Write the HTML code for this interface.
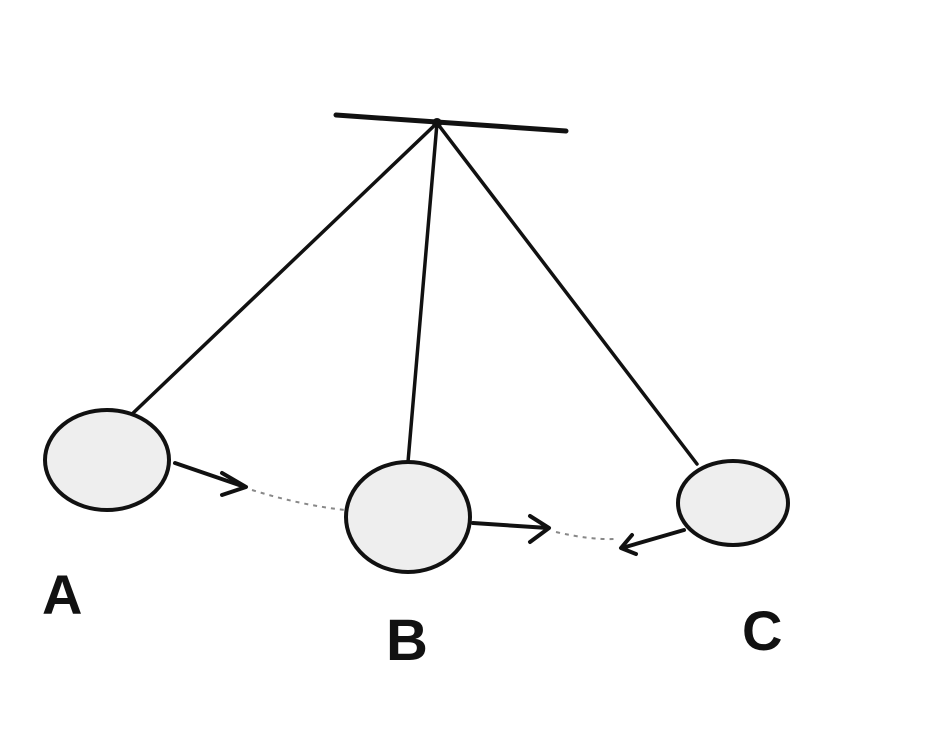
<!DOCTYPE html>
<html><head><style>
html,body{margin:0;padding:0;background:#fff;}
svg{display:block;}
text{font-family:"Liberation Sans",sans-serif;font-weight:bold;fill:#111;}
</style></head><body>
<svg width="928" height="743" viewBox="0 0 928 743" xmlns="http://www.w3.org/2000/svg">
<rect width="928" height="743" fill="#fff"/>
<g stroke="#111" stroke-linecap="round" fill="none">
<line x1="336" y1="115" x2="566" y2="131" stroke-width="5"/>
<circle cx="437" cy="123" r="5" fill="#111" stroke="none"/>
<line x1="437" y1="123" x2="130" y2="416" stroke-width="3.5"/>
<line x1="437" y1="123" x2="408" y2="462" stroke-width="3.5"/>
<line x1="437" y1="123" x2="697" y2="464" stroke-width="3.5"/>
</g>
<g stroke="#111" stroke-width="4" fill="#eee">
<ellipse cx="107" cy="460" rx="62" ry="50"/>
<ellipse cx="408" cy="517" rx="62" ry="55"/>
<ellipse cx="733" cy="503" rx="55" ry="42"/>
</g>
<g stroke="#111" stroke-width="4" fill="none" stroke-linecap="round" stroke-linejoin="round">
<path d="M175 463 L245 487"/>
<path d="M222 473 L246 487 L222 495"/>
<path d="M473 523 L548 528"/>
<path d="M530 516 L549 528 L530 542"/>
<path d="M684 530 L622 548"/>
<path d="M632 535 L621 548 L636 554"/>
</g>
<g stroke="#888" stroke-width="2" fill="none" stroke-dasharray="4 5">
<path d="M252 490 Q300 505 345 510"/>
<path d="M556 532 Q590 540 615 539"/>
</g>
<text x="42" y="614" font-size="56">A</text>
<text x="386" y="660" font-size="58">B</text>
<text x="742" y="650" font-size="56">C</text>
</svg>
</body></html>
